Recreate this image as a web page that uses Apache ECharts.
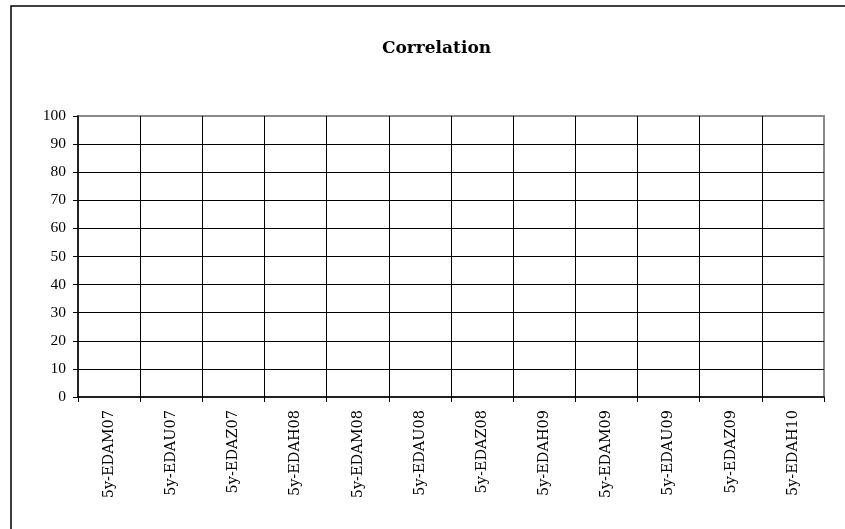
<!DOCTYPE html>
<html>
<head>
<meta charset="utf-8">
<script src="https://cdn.jsdelivr.net/npm/echarts@6/dist/echarts.min.js"></script>
<style>html,body{margin:0;padding:0;background:#fff;}#c{width:845px;height:529px;}</style>
</head>
<body>
<div id="c"></div>
<script>
const titleText = 'Correlation';
const categories = ['5y-EDAM07','5y-EDAU07','5y-EDAZ07','5y-EDAH08','5y-EDAM08','5y-EDAU08','5y-EDAZ08','5y-EDAH09','5y-EDAM09','5y-EDAU09','5y-EDAZ09','5y-EDAH10'];
const correlationValues = [null,null,null,null,null,null,null,null,null,null,null,null];
const yMin = 0, yMax = 100, yStep = 10;

const chart = echarts.init(document.getElementById('c'), null, {renderer:'canvas'});
chart.setOption({
  animation: false,
  backgroundColor: '#fff',
  title: {
    text: titleText,
    left: 377, top: 35,
    textStyle: {fontFamily: 'DejaVu Serif', fontWeight: 'bold', fontSize: 17, color: '#000'}
  },
  graphic: [{
    type: 'rect', silent: true, z: 100,
    shape: {x: 11, y: 6, width: 900, height: 600},
    style: {fill: 'none', stroke: '#000', lineWidth: 1.5}
  }],
  grid: {left: 78, right: 21, top: 116, bottom: 132, show: true, borderColor: '#8a8a8a', borderWidth: 2, backgroundColor: 'transparent'},
  xAxis: {
    type: 'category',
    data: categories,
    boundaryGap: true,
    axisLine: {lineStyle: {color: '#000', width: 1.5}},
    axisTick: {show: true, length: 5, lineStyle: {color: '#000'}},
    splitLine: {show: true, showMinLine: false, showMaxLine: false, lineStyle: {color: '#000', width: 1}},
    axisLabel: {rotate: 90, interval: 0, margin: 13, fontFamily: 'DejaVu Serif', fontSize: 14.5, color: '#000'}
  },
  yAxis: {
    type: 'value',
    min: yMin, max: yMax, interval: yStep,
    axisLine: {show: true, lineStyle: {color: '#000', width: 1.5}},
    axisTick: {show: true, length: 5, lineStyle: {color: '#000'}},
    splitLine: {show: true, showMinLine: false, showMaxLine: false, lineStyle: {color: '#000', width: 1}},
    axisLabel: {margin: 12, fontFamily: 'Liberation Serif', fontSize: 15.5, color: '#000'}
  },
  series: [{
    name: titleText,
    type: 'bar',
    data: correlationValues
  }]
});
</script>
</body>
</html>
